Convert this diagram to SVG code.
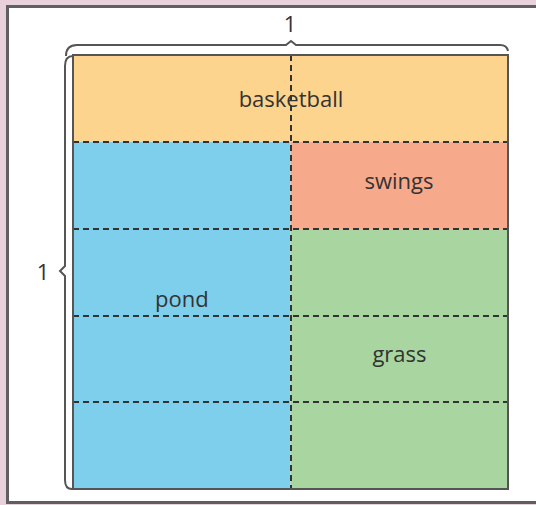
<svg xmlns="http://www.w3.org/2000/svg" width="536" height="505" viewBox="0 0 536 505">
<style>
.lbl{font-family:"Open Sans","Noto Sans",sans-serif;font-size:22px;fill:#333}
.dash{stroke:#333;stroke-width:2;stroke-dasharray:6 4;fill:none}
.brace{stroke:#555;stroke-width:2;fill:none}
</style>
<rect x="0" y="0" width="536" height="505" fill="#e9d1dc"/>
<rect x="7.5" y="6.5" width="540" height="496" fill="#fff" stroke="#5f5f5f" stroke-width="3"/>
<g id="basketball">
<rect x="73" y="55" width="435" height="87" fill="#fdd48e"/>
<text class="lbl" x="291" y="107" text-anchor="middle">basketball</text>
</g>
<g id="pond">
<rect x="73" y="142" width="217.5" height="347" fill="#7ecfec"/>
<text class="lbl" x="155" y="307">pond</text>
</g>
<g id="swings">
<rect x="290.5" y="142" width="217.5" height="87" fill="#f7a98b"/>
<text class="lbl" x="399" y="189" text-anchor="middle">swings</text>
</g>
<g id="grass">
<rect x="290.5" y="229" width="217.5" height="260" fill="#a8d5a0"/>
<text class="lbl" x="399.5" y="362" text-anchor="middle">grass</text>
</g>
<g id="connectors">
<line class="dash" x1="291" y1="55" x2="291" y2="489"/>
<line class="dash" x1="73" y1="142" x2="508" y2="142"/>
<line class="dash" x1="73" y1="229" x2="508" y2="229"/>
<line class="dash" x1="73" y1="316" x2="508" y2="316"/>
<line class="dash" x1="73" y1="402" x2="508" y2="402"/>
<rect x="73" y="55" width="435" height="434" fill="none" stroke="#555" stroke-width="2"/>
</g>
<g id="top-brace">
<path class="brace" d="M66,56 Q66,45 77,45 L286,45 L291,41 L296,45 L500,45 Q507,45 508,51"/>
<text class="lbl" x="290" y="32" text-anchor="middle">1</text>
</g>
<g id="left-brace">
<path class="brace" d="M73,56 Q65,56 65,66 L65,266 L60,271 L65,276 L65,480 Q65,489 72,489"/>
<text class="lbl" x="43" y="280" text-anchor="middle">1</text>
</g>
</svg>
